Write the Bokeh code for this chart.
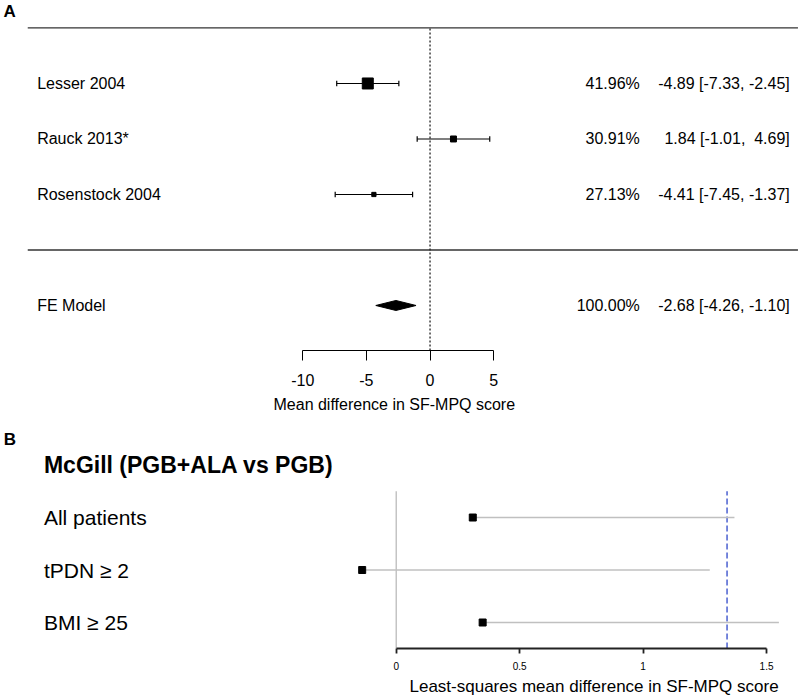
from bokeh.plotting import figure
from bokeh.models import Range1d, FixedTicker, Label, LinearAxis, Title
from bokeh.layouts import column
from bokeh.embed import file_html
from bokeh.resources import INLINE
from bokeh.core.properties import value

FONT = "Liberation Sans"
NB = "\u00a0"

# ---- Panel A: fixed-effect meta-analysis ----
studies = ["Lesser 2004", "Rauck 2013*", "Rosenstock 2004"]
weights = [41.96, 30.91, 27.13]
md = [-4.89, 1.84, -4.41]
ci_lo = [-7.33, -1.01, -7.45]
ci_hi = [-2.45, 4.69, -1.37]
study_rows = [3, 2, 1]

fe_label = "FE Model"
fe_weight = 100.00
fe_md = -2.68
fe_lo = -4.26
fe_hi = -1.10
fe_row = -1

a_ticks = [-10, -5, 0, 5]
a_tick_labels = ["-10", "-5", "0", "5"]
a_title = "Mean difference in SF-MPQ score"

# ---- Panel B: subgroup least-squares mean differences ----
b_heading = "McGill (PGB+ALA vs PGB)"
groups = ["All patients", "tPDN \u2265 2", "BMI \u2265 25"]
ls_diff = [0.31, -0.138, 0.35]
ls_upper = [1.37, 1.27, 1.55]
group_rows = [3, 2, 1]
margin_value = 1.34
b_ticks = [0, 0.5, 1, 1.5]
b_tick_labels = ["0", "0.5", "1", "1.5"]
b_title = "Least-squares mean difference in SF-MPQ score"


def fmt_num(v):
    # right-justify in a width of 5, keeping padding visible in SVG
    return f"{v:5.2f}".replace(" ", NB)


def fmt_ci(e, lo, hi):
    return f"{fmt_num(e)} [{fmt_num(lo)}, {fmt_num(hi)}]"


# ------------------------------------------------------------------ A
pa = figure(width=800, height=420, output_backend="svg", toolbar_location=None,
            x_range=Range1d(-33.74, 29.1), y_range=Range1d(-1.811, 4.495),
            y_axis_location=None, x_axis_location=None,
            min_border_left=0, min_border_right=0, min_border_top=0, min_border_bottom=70)
pa.grid.visible = False
pa.outline_line_color = None
pa.background_fill_color = "white"
pa.border_fill_color = "white"

ax = LinearAxis(ticker=FixedTicker(ticks=a_ticks), bounds=(min(a_ticks), max(a_ticks)))
ax.major_label_overrides = {t: s for t, s in zip(a_ticks, a_tick_labels)}
ax.major_tick_out = 10
ax.major_tick_in = 0
ax.minor_tick_out = 0
ax.minor_tick_in = 0
ax.axis_line_color = "black"
ax.major_tick_line_color = "black"
ax.major_label_text_font = FONT
ax.major_label_text_font_size = "16px"
ax.major_label_text_color = "black"
ax.major_label_standoff = 13
pa.add_layout(ax, "below")
pa.add_layout(Title(text=a_title, align="left", offset=273, standoff=10,
                    text_font=FONT, text_font_size="16px", text_font_style="normal",
                    text_color="black"), "below")

# header/summary separator lines
pa.segment(x0=[-31.6, -31.6], x1=[28.9, 28.9], y0=[4, 0], y1=[4, 0],
           line_color="#333333", line_width=1.3)
# reference line at zero
pa.segment(x0=[0], x1=[0], y0=[pa.y_range.start], y1=[4],
           line_color="#222222", line_width=1.3, line_dash="2 2")

# CI whiskers with end caps
pa.segment(x0=ci_lo, x1=ci_hi, y0=study_rows, y1=study_rows, line_color="black", line_width=1.2)
cap = 0.05
pa.segment(x0=ci_lo + ci_hi, x1=ci_lo + ci_hi,
           y0=[r - cap for r in study_rows] * 2, y1=[r + cap for r in study_rows] * 2,
           line_color="black", line_width=1.2)

# squares sized by study weight
wmin, wmax = min(weights), max(weights)
cex = [0.5 + 1.5 * (w - wmin) / (wmax - wmin) for w in weights]
sizes = [2 + 4.5 * c for c in cex]
pa.scatter(x=md, y=study_rows, marker="square", size=sizes, fill_color="black", line_color="black")

# pooled-effect diamond
h = 0.09
pa.patches(xs=[[fe_lo, fe_md, fe_hi, fe_md]], ys=[[fe_row, fe_row + h, fe_row, fe_row - h]],
           fill_color="black", line_color="black")

txt = dict(text_font=value(FONT), text_font_size="16px", text_color="black", text_baseline="middle")
rows_all = study_rows + [fe_row]
pa.text(x=[-30.86] * 4, y=rows_all, text=studies + [fe_label], text_align="left", **txt)
pa.text(x=[16.48] * 4, y=rows_all, text=[f"{w:.2f}%" for w in weights] + [f"{fe_weight:.2f}%"],
        text_align="right", **txt)
ci_txt = [fmt_ci(e, lo, hi) for e, lo, hi in zip(md, ci_lo, ci_hi)]
ci_txt.append(fmt_ci(fe_md, fe_lo, fe_hi))
pa.text(x=[28.26] * 4, y=rows_all, text=ci_txt, text_align="right", **txt)

pa.add_layout(Label(x=-33.5, y=4.297, text="A", text_font=FONT, text_font_size="17px",
                    text_font_style="bold", text_align="left", text_baseline="middle",
                    text_color="black"))

# ------------------------------------------------------------------ B
pb = figure(width=800, height=278, output_backend="svg", toolbar_location=None,
            x_range=Range1d(-1.603, 1.6375), y_range=Range1d(0.505, 4.848),
            y_axis_location=None, x_axis_location=None,
            min_border_left=0, min_border_right=0, min_border_top=0, min_border_bottom=50)
pb.grid.visible = False
pb.outline_line_color = None

bx = LinearAxis(ticker=FixedTicker(ticks=b_ticks), bounds=(min(b_ticks), max(b_ticks)))
bx.major_label_overrides = {t: s for t, s in zip(b_ticks, b_tick_labels)}
bx.major_tick_out = 5
bx.major_tick_in = 0
bx.minor_tick_out = 0
bx.minor_tick_in = 0
bx.axis_line_width = 1.8
bx.major_tick_line_width = 1.8
bx.axis_line_color = "#222222"
bx.major_tick_line_color = "#222222"
bx.major_label_text_font = FONT
bx.major_label_text_font_size = "10px"
bx.major_label_text_color = "black"
bx.major_label_standoff = 8
pb.add_layout(bx, "below")
pb.add_layout(Title(text=b_title, align="left", offset=409, standoff=4,
                    text_font=FONT, text_font_size="17px", text_font_style="normal",
                    text_color="black"), "below")

# zero line and margin line
pb.segment(x0=[0], x1=[0], y0=[pb.y_range.start], y1=[3.5], line_color="#c4c4c4", line_width=1.5)
pb.segment(x0=[margin_value], x1=[margin_value], y0=[pb.y_range.start], y1=[3.5],
           line_color="#4a5fd0", line_width=1.5, line_dash="6 3")

pb.segment(x0=ls_diff, x1=ls_upper, y0=group_rows, y1=group_rows, line_color="#c0c0c0", line_width=1.5)
pb.scatter(x=ls_diff, y=group_rows, marker="square", size=7, fill_color="black", line_color="black")

pb.text(x=[-1.427] * 3, y=group_rows, text=groups, text_font=value(FONT), text_font_size="21px",
        text_color="black", text_baseline="middle", text_align="left")
pb.add_layout(Label(x=-1.427, y=4.0, text=b_heading, text_font=FONT, text_font_size="23px",
                    text_font_style="bold", text_align="left", text_baseline="middle",
                    text_color="black"))
pb.add_layout(Label(x=-1.59, y=4.486, text="B", text_font=FONT, text_font_size="17px",
                    text_font_style="bold", text_align="left", text_baseline="middle",
                    text_color="black"))

layout = column(pa, pb, spacing=0)
open("out.html", "w").write(file_html(layout, INLINE))
